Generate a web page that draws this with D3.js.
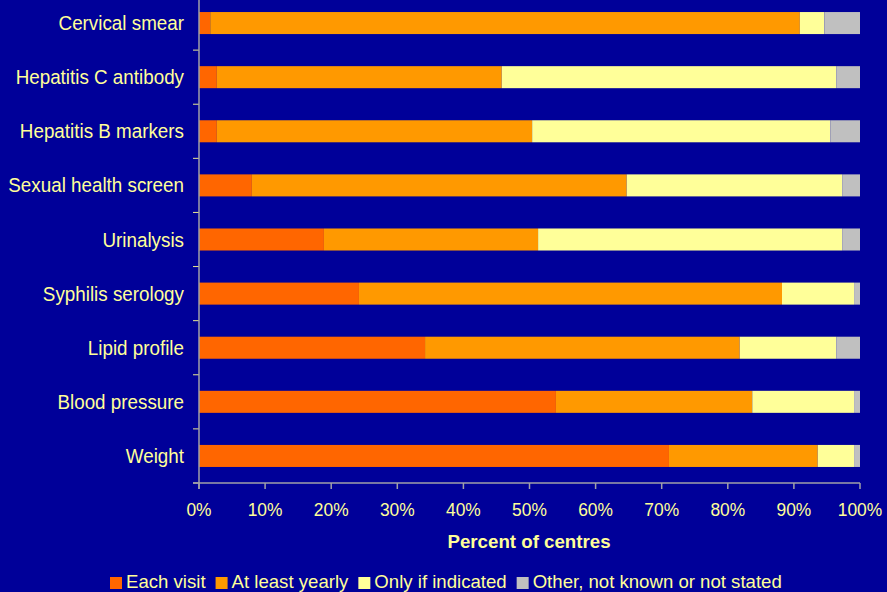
<!DOCTYPE html>
<html>
<head>
<meta charset="utf-8">
<script src="https://cdn.jsdelivr.net/npm/d3@7"></script>
<style>
  html, body { margin: 0; padding: 0; background: #000099; }
  svg { display: block; }
  text { font-family: "Liberation Sans", Arial, sans-serif; fill: #FFFF99; }
</style>
</head>
<body>
<script>
// Monitoring tests, top row first
const categories = [
  "Cervical smear", "Hepatitis C antibody", "Hepatitis B markers",
  "Sexual health screen", "Urinalysis", "Syphilis serology",
  "Lipid profile", "Blood pressure", "Weight"
];
const seriesNames = ["Each visit", "At least yearly", "Only if indicated", "Other, not known or not stated"];
// Percent of centres per category, one array per series
const eachVisit      = [1.7,  2.7,  2.7,  8.0, 18.9, 24.2, 34.2, 54.0, 71.1];
const atLeastYearly  = [89.2, 43.1, 47.7, 56.7, 32.4, 64.0, 47.6, 29.7, 22.5];
const onlyIfIndicated= [3.7,  50.6, 45.1, 32.6, 46.0, 10.9, 14.6, 15.4, 5.5];
const otherUnknown   = [5.4,  3.6,  4.5,  2.7,  2.7,  0.9,  3.6,  0.9,  0.9];
const xTicks = [0, 10, 20, 30, 40, 50, 60, 70, 80, 90, 100];
const colors = ["#FF6600", "#FF9900", "#FFFF99", "#C0C0C0"];

const W = 887, H = 592;
const plotLeft = 199, plotRight = 860, plotTop = -4, plotBottom = 483;

const svg = d3.select("body").append("svg").attr("width", W).attr("height", H);
svg.append("rect").attr("width", W).attr("height", H).attr("fill", "#000099");

const x = d3.scaleLinear().domain([0, 100]).range([plotLeft, plotRight]);
const y = d3.scaleBand().domain(categories).range([plotTop, plotBottom])
  .paddingInner(0.593).paddingOuter(0.2965);

const rows = categories.map((c, i) => ({
  cat: c,
  s0: eachVisit[i], s1: atLeastYearly[i], s2: onlyIfIndicated[i], s3: otherUnknown[i]
}));
const stacked = d3.stack().keys(["s0", "s1", "s2", "s3"])(rows);

svg.append("g").selectAll("g").data(stacked).join("g")
  .attr("fill", (d, i) => colors[i])
  .selectAll("rect").data(d => d).join("rect")
  .attr("x", d => x(d[0]))
  .attr("width", d => x(d[1]) - x(d[0]))
  .attr("y", d => y(d.data.cat))
  .attr("height", y.bandwidth());

// Category boundary ticks on the left of the axis
const step = y.step();
const boundaries = d3.range(1, categories.length + 1).map(i => plotTop + i * step);
svg.append("g").selectAll("line").data(boundaries).join("line")
  .attr("x1", plotLeft - 6).attr("x2", plotLeft)
  .attr("y1", d => d).attr("y2", d => d)
  .attr("stroke", "#E8E890").attr("stroke-width", 1);

// Axis lines
svg.append("line").attr("x1", plotLeft).attr("x2", plotLeft).attr("y1", 0).attr("y2", plotBottom + 6)
  .attr("stroke", "#A0A0A8").attr("stroke-width", 1.5);
svg.append("line").attr("x1", plotLeft - 6).attr("x2", plotRight).attr("y1", plotBottom).attr("y2", plotBottom)
  .attr("stroke", "#A0A0A8").attr("stroke-width", 1.5);

// X axis ticks and labels
const xa = svg.append("g");
xa.selectAll("line").data(xTicks).join("line")
  .attr("x1", d => x(d)).attr("x2", d => x(d))
  .attr("y1", plotBottom).attr("y2", plotBottom + 6)
  .attr("stroke", "#A0A0A8").attr("stroke-width", 1.5);
xa.selectAll("text").data(xTicks).join("text")
  .attr("transform", d => `translate(${x(d)},516) scale(0.94,1)`)
  .attr("text-anchor", "middle")
  .style("font-size", "18.5px")
  .text(d => d + "%");

// Category labels
svg.append("g").selectAll("text").data(categories).join("text")
  .attr("transform", d => `translate(184,${y(d) + y.bandwidth() / 2 + 7}) scale(0.965,1)`)
  .attr("text-anchor", "end")
  .style("font-size", "19.5px")
  .text(d => d);

// Axis title
svg.append("text")
  .attr("transform", "translate(529,548)")
  .attr("text-anchor", "middle")
  .style("font-size", "18.7px").style("font-weight", "bold")
  .text("Percent of centres");

// Legend
const legend = svg.append("g").attr("transform", "translate(110,0)");
let lx = 0;
seriesNames.forEach((name, i) => {
  const g = legend.append("g").attr("transform", `translate(${lx},0)`);
  g.append("rect").attr("x", 0).attr("y", 577).attr("width", 12).attr("height", 12).attr("fill", colors[i]);
  const t = g.append("text")
    .attr("x", 16).attr("y", 588)
    .style("font-size", "18.6px")
    .text(name);
  const w = t.node().getComputedTextLength();
  lx += 16 + w + 10;
});
</script>
</body>
</html>
